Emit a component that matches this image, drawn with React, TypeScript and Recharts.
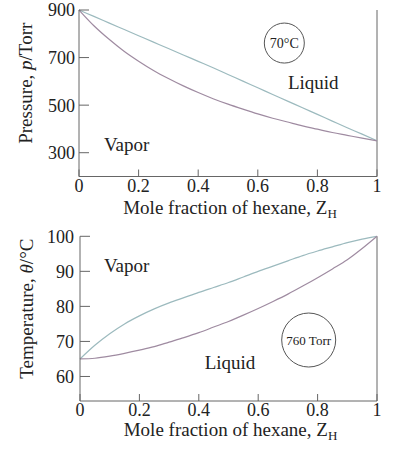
import {
  LineChart,
  Line,
  XAxis,
  YAxis,
  ReferenceLine,
  ReferenceDot,
} from "recharts";

// mole fraction of hexane, read every 0.05
const hexaneFrac = [
  0, 0.05, 0.1, 0.15, 0.2, 0.25, 0.3, 0.35, 0.4, 0.45, 0.5,
  0.55, 0.6, 0.65, 0.7, 0.75, 0.8, 0.85, 0.9, 0.95, 1,
];

// 70 C, pressure in Torr
const pressureLiquid = [
  900, 873, 846, 819, 792, 765, 738, 711, 684, 657, 629,
  601, 573, 545, 517, 489, 461, 433, 405, 378, 350,
];
const pressureVapor = [
  900, 834, 778, 728, 685, 646, 612, 581, 553, 527, 504,
  483, 463, 445, 429, 413, 399, 385, 373, 361, 350,
];

// 760 Torr, temperature in C
const tempVapor = [
  65, 68.9, 72.2, 75, 77.3, 79.3, 81, 82.5, 84, 85.4, 86.8,
  88.4, 90, 91.5, 93, 94.5, 95.8, 97, 98.2, 99.2, 100,
];
const tempLiquid = [
  65, 65.2, 65.8, 66.6, 67.5, 68.5, 69.8, 71.1, 72.5, 74.1, 75.7,
  77.5, 79.4, 81.4, 83.5, 85.8, 88.2, 90.7, 93.3, 96.5, 100,
];

const fracTicks = [0, 0.2, 0.4, 0.6, 0.8, 1];
const pressureTicks = [300, 500, 700, 900];
const tempTicks = [60, 70, 80, 90, 100];

const serif = '"Liberation Serif", "Times New Roman", serif';
const ink = "#222";
const axisGrey = "#666";
const upperColor = "#9cbabe";
const lowerColor = "#9f8ba1";

const pressureRows = hexaneFrac.map((z, i) => ({
  z,
  liquid: pressureLiquid[i],
  vapor: pressureVapor[i],
}));

const tempRows = hexaneFrac.map((z, i) => ({
  z,
  vapor: tempVapor[i],
  liquid: tempLiquid[i],
}));

function XTitle(props: any) {
  const { viewBox, dy } = props;
  const { x, y, width } = viewBox;
  return (
    <text
      x={x + width / 2 + 2}
      y={y + dy}
      textAnchor="middle"
      fontFamily={serif}
      fontSize={19}
      fill={ink}
    >
      Mole fraction of hexane, Z
      <tspan fontSize={13} dy={4}>
        H
      </tspan>
    </text>
  );
}

function YTitle(props: any) {
  const { viewBox, lx, shift, first, italic, last } = props;
  const cy = viewBox.y + viewBox.height / 2 + shift;
  return (
    <text
      x={lx}
      y={cy}
      transform={`rotate(-90, ${lx}, ${cy})`}
      textAnchor="middle"
      fontFamily={serif}
      fontSize={19}
      fill={ink}
    >
      {first}
      <tspan fontStyle="italic">{italic}</tspan>
      {last}
    </text>
  );
}

const tickStyle = { fontFamily: serif, fontSize: 18, fill: ink };

function textLabel(value: string, size: number) {
  return {
    value,
    position: "center" as const,
    fontFamily: serif,
    fontSize: size,
    fill: ink,
  };
}

export default function App() {
  return (
    <div
      style={{
        position: "absolute",
        left: 0,
        top: 0,
        width: 397,
        height: 450,
        background: "#fff",
      }}
    >
      <LineChart
        width={397}
        height={222}
        data={pressureRows}
        margin={{ top: 10, right: 20, bottom: 0, left: 0 }}
      >
        <XAxis
          dataKey="z"
          type="number"
          domain={[0, 1]}
          ticks={fracTicks}
          interval={0}
          height={45.5}
          stroke={axisGrey}
          tickSize={-7}
          tickMargin={10}
          tick={tickStyle}
          label={<XTitle dy={37} />}
        />
        <YAxis
          type="number"
          domain={[200, 900]}
          ticks={pressureTicks}
          interval={0}
          width={79}
          stroke={axisGrey}
          tickSize={-10}
          tickMargin={14}
          tick={tickStyle}
          label={
            <YTitle
              lx={32}
              shift={-10}
              first="Pressure, "
              italic="p"
              last="/Torr"
            />
          }
        />
        <ReferenceLine x={1} stroke={axisGrey} />
        <Line
          dataKey="liquid"
          type="monotone"
          stroke={upperColor}
          strokeWidth={1.2}
          dot={false}
          isAnimationActive={false}
        />
        <Line
          dataKey="vapor"
          type="monotone"
          stroke={lowerColor}
          strokeWidth={1.2}
          dot={false}
          isAnimationActive={false}
        />
        <ReferenceDot
          x={0.16}
          y={337}
          r={0}
          fill="none"
          stroke="none"
          label={textLabel("Vapor", 19)}
        />
        <ReferenceDot
          x={0.786}
          y={597}
          r={0}
          fill="none"
          stroke="none"
          label={textLabel("Liquid", 19)}
        />
        <ReferenceDot
          x={0.689}
          y={761}
          r={20}
          fill="none"
          stroke="#555"
          strokeWidth={1}
          label={textLabel("70°C", 14)}
        />
      </LineChart>

      <LineChart
        width={397}
        height={228}
        data={tempRows}
        margin={{ top: 14.3, right: 20, bottom: 0, left: 0 }}
      >
        <XAxis
          dataKey="z"
          type="number"
          domain={[0, 1]}
          ticks={fracTicks}
          interval={0}
          height={49}
          stroke={axisGrey}
          tickSize={-7}
          tickMargin={9}
          tick={tickStyle}
          label={<XTitle dy={35} />}
        />
        <YAxis
          type="number"
          domain={[53, 100]}
          ticks={tempTicks}
          interval={0}
          width={80}
          stroke={axisGrey}
          tickSize={-10}
          tickMargin={16}
          tick={tickStyle}
          label={
            <YTitle
              lx={33}
              shift={-10}
              first="Temperature, "
              italic="θ"
              last="/°C"
            />
          }
        />
        <ReferenceLine x={1} stroke={axisGrey} />
        <Line
          dataKey="vapor"
          type="monotone"
          stroke={upperColor}
          strokeWidth={1.2}
          dot={false}
          isAnimationActive={false}
        />
        <Line
          dataKey="liquid"
          type="monotone"
          stroke={lowerColor}
          strokeWidth={1.2}
          dot={false}
          isAnimationActive={false}
        />
        <ReferenceDot
          x={0.157}
          y={91.8}
          r={0}
          fill="none"
          stroke="none"
          label={textLabel("Vapor", 19)}
        />
        <ReferenceDot
          x={0.505}
          y={64.1}
          r={0}
          fill="none"
          stroke="none"
          label={textLabel("Liquid", 19)}
        />
        <ReferenceDot
          x={0.77}
          y={70.4}
          r={27}
          fill="none"
          stroke="#555"
          strokeWidth={1}
          label={textLabel("760 Torr", 13)}
        />
      </LineChart>
    </div>
  );
}
